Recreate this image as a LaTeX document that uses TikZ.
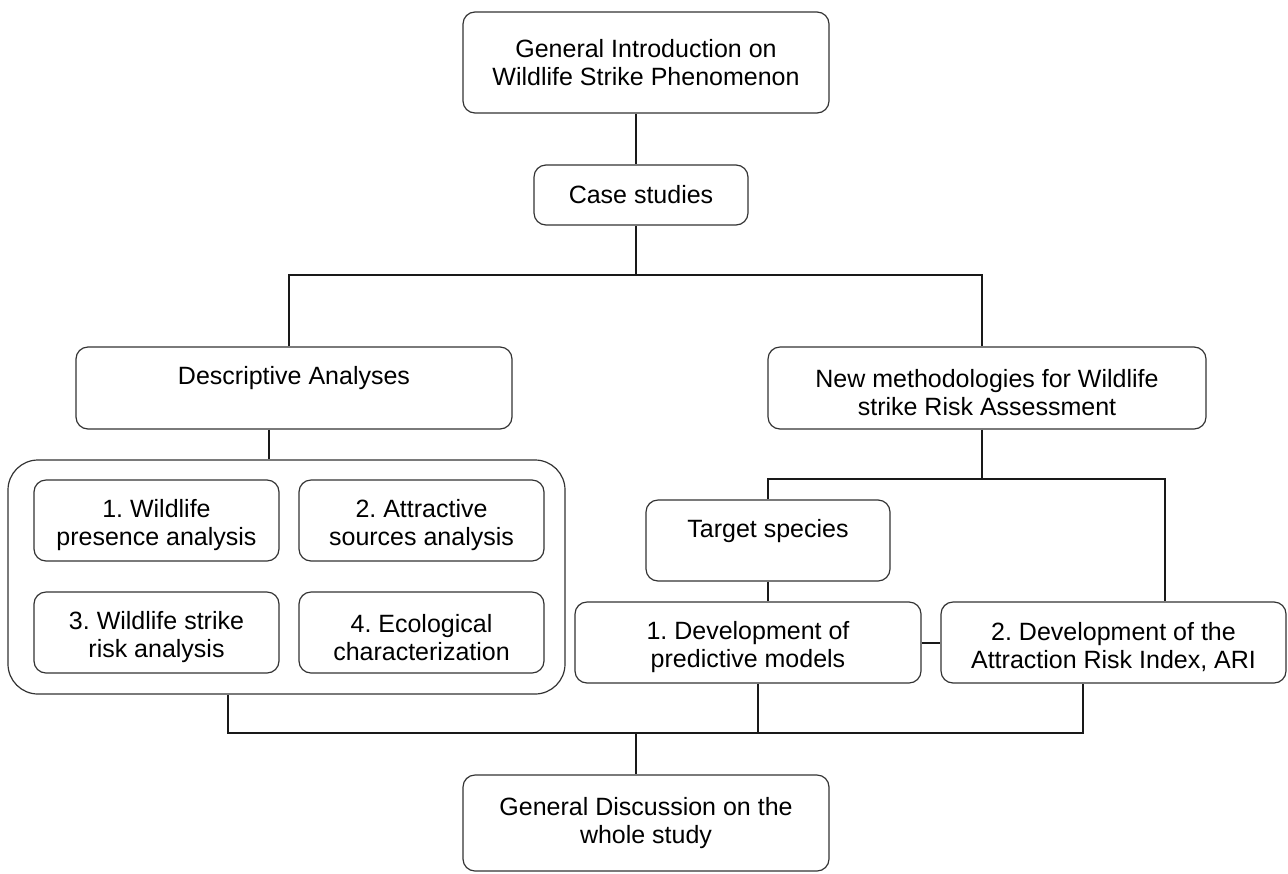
\documentclass[tikz,border=0pt]{standalone}
\usepackage{fontspec}
\setmainfont{Liberation Sans}
\frenchspacing

\begin{document}
\begin{tikzpicture}[x=0.5pt, y=-0.5pt,
  box/.style={draw=black!80, line width=0.6pt, rounded corners=6pt, align=center, inner sep=0pt,
    font=\fontsize{12.5pt}{14pt}\selectfont},
  uptext/.style={text depth=12.5pt},
  downtext/.style={text height=28pt},
  link/.style={line width=1pt, black!90}]
\useasboundingbox (0,0) rectangle (1288,873);

\node[box, minimum width=183pt, minimum height=50.5pt] (intro) at (646,62.5) {General Introduction on\\Wildlife Strike Phenomenon};
\node[box, minimum width=107pt, minimum height=30pt] (cases) at (641,195) {Case studies};

\node[box, uptext, minimum width=218pt, minimum height=41pt] (desc) at (294,388) {Descriptive Analyses};
\node[box, downtext, minimum width=219pt, minimum height=41pt] (newm) at (987,388) {New methodologies for Wildlife\\strike Risk Assessment};

\node[box, rounded corners=15pt, minimum width=278.5pt, minimum height=117pt] (cont) at (286.5,577) {};
\node[box, downtext, minimum width=122.5pt, minimum height=40.5pt] (pres) at (156.5,520.5) {1. Wildlife\\presence analysis};
\node[box, downtext, minimum width=122.5pt, minimum height=40.5pt] (attr) at (421.5,520.5) {2. Attractive\\sources analysis};
\node[box, downtext, minimum width=122.5pt, minimum height=40.5pt] (risk) at (156.5,632.5) {3. Wildlife strike\\risk analysis};
\node[box, downtext, minimum width=122.5pt, minimum height=40.5pt] (ecol) at (421.5,632.5) {4. Ecological\\characterization};

\node[box, uptext, minimum width=122pt, minimum height=40.5pt] (target) at (768,540.5) {Target species};
\node[box, downtext, minimum width=173pt, minimum height=40.5pt] (pred) at (748,642.5) {1. Development of\\predictive models};
\node[box, downtext, minimum width=172.5pt, minimum height=40.5pt] (ari) at (1113.5,642.5) {2. Development of the\\Attraction Risk Index, ARI};

\node[box, minimum width=183pt, minimum height=48pt] (disc) at (646,823) {General Discussion on the\\whole study};

\coordinate (split) at (636,275);
\coordinate (msplit) at (982,479);
\coordinate (join) at (636,733);

\draw[link] (intro.south -| split) -- (cases.north -| split);
\draw[link] (cases.south -| split) -- (split);
\draw[link] ([xshift=-2.5pt]desc.north) |- (split) -| ([xshift=-2.5pt]newm.north);
\draw[link] ([xshift=-12.5pt]desc.south) coordinate (dj) -- (dj |- cont.north);

\draw[link] (newm.south -| msplit) -- (msplit);
\draw[link] (target.north) |- (msplit) -| ([xshift=25.75pt]ari.north);
\draw[link] (target.south) -- (target.south |- pred.north);
\draw[link] (pred.east) -- (ari.west);

\draw[link] ([xshift=-29.25pt]cont.south) |- (join) -| ([xshift=-15.25pt]ari.south);
\draw[link] ([xshift=5pt]pred.south) coordinate (pj) -- (pj |- join);
\draw[link] (join) -- (disc.north -| join);

\end{tikzpicture}
\end{document}
